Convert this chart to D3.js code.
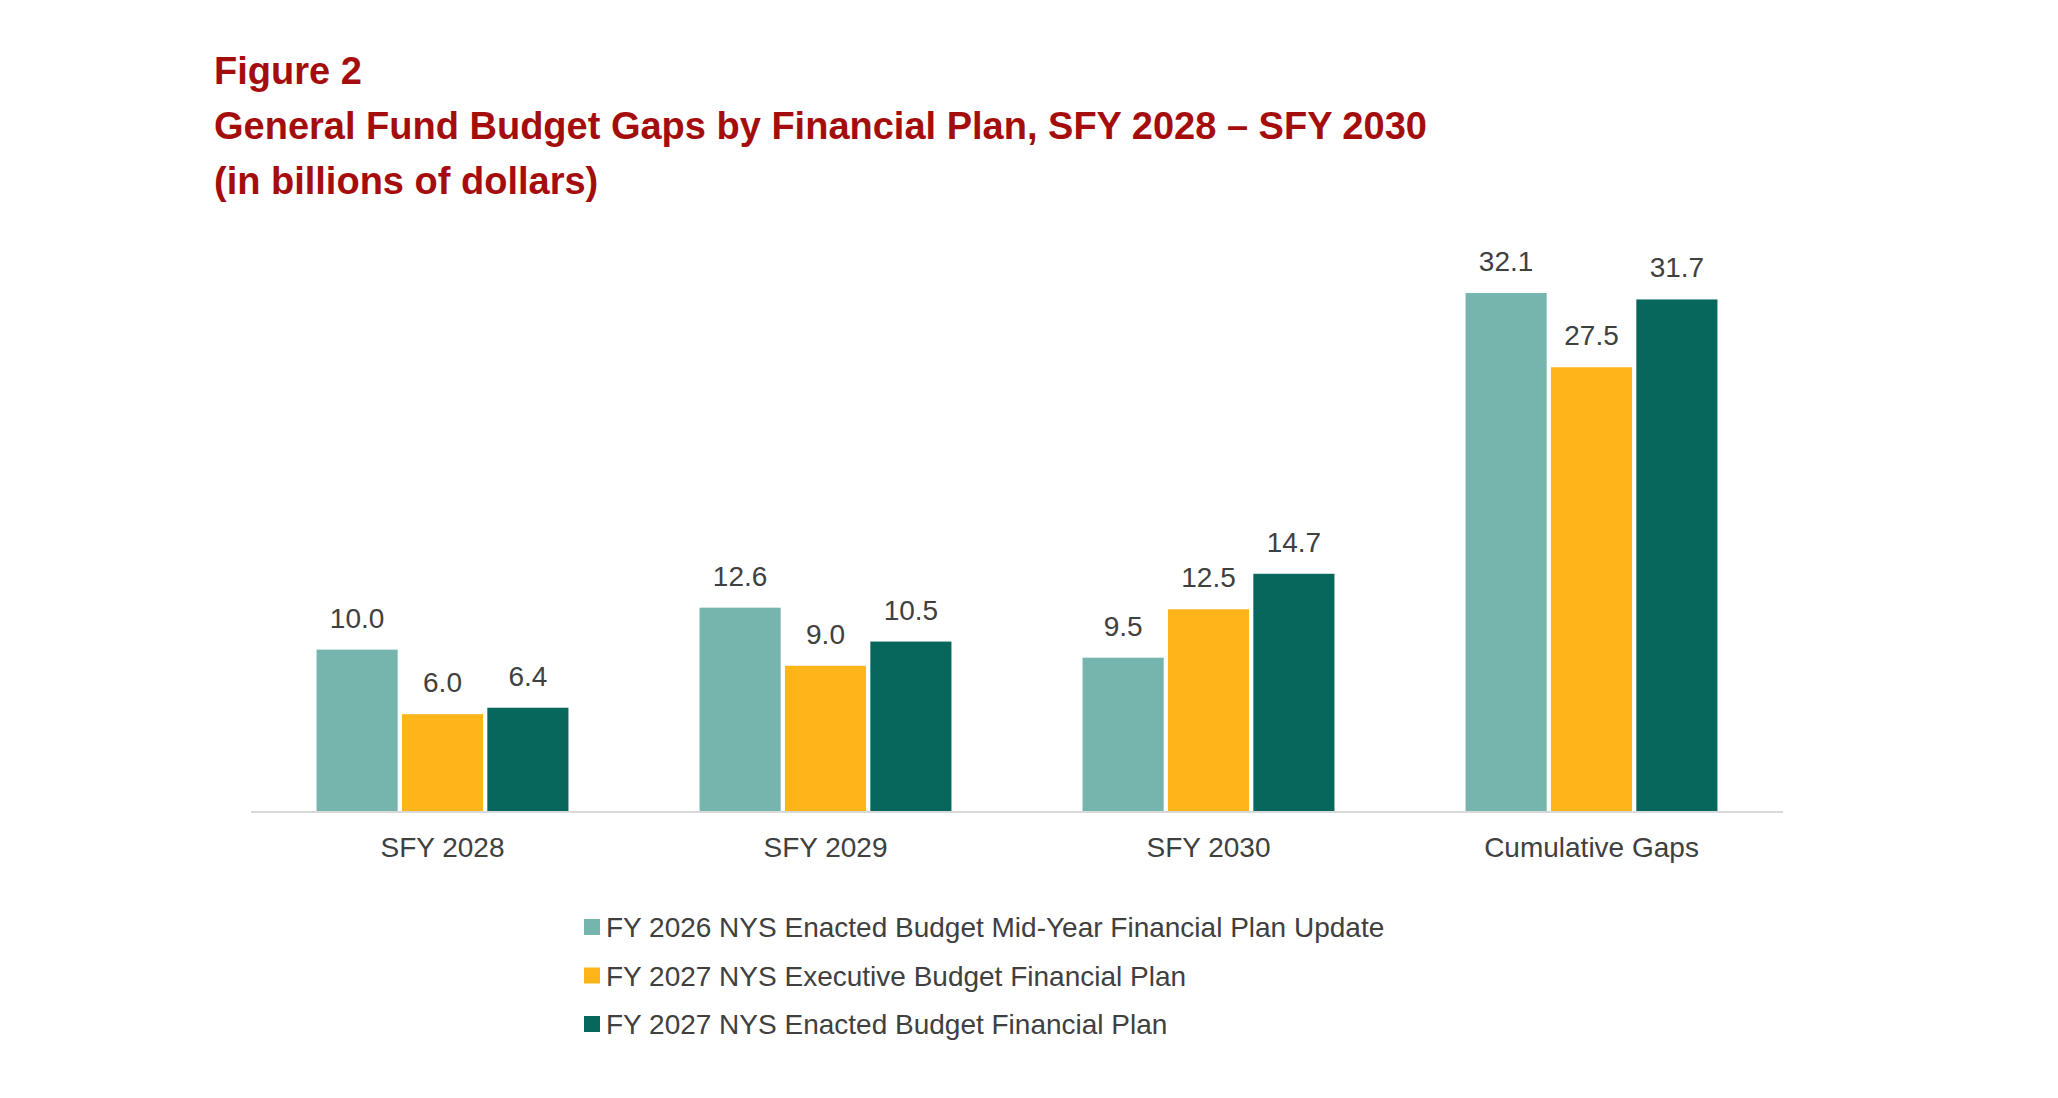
<!DOCTYPE html>
<html lang="en">
<head>
<meta charset="UTF-8">
<title>Figure 2</title>
<script src="https://cdnjs.cloudflare.com/ajax/libs/d3/7.8.5/d3.min.js"></script>
<style>
  body { margin: 0; background: #fff; font-family: 'Liberation Sans', Arial, sans-serif; }
  .title { fill: #a50d0d; font-weight: bold; font-size: 38px; }
  .lbl { fill: #404040; font-size: 28px; }
</style>
</head>
<body>
<svg id="chart" width="2058" height="1098"></svg>
<script>
const categories = ["SFY 2028", "SFY 2029", "SFY 2030", "Cumulative Gaps"];
const seriesNames = [
  "FY 2026 NYS Enacted Budget Mid-Year Financial Plan Update",
  "FY 2027 NYS Executive Budget Financial Plan",
  "FY 2027 NYS Enacted Budget Financial Plan"
];
const midYear = [10.0, 12.6, 9.5, 32.1];
const executive = [6.0, 9.0, 12.5, 27.5];
const enacted = [6.4, 10.5, 14.7, 31.7];
const colors = ["#76b4ae", "#fdb51a", "#08675d"];
const titleLines = [
  "Figure 2",
  "General Fund Budget Gaps by Financial Plan, SFY 2028 \u2013 SFY 2030",
  "(in billions of dollars)"
];

const series = [midYear, executive, enacted];
const svg = d3.select("#chart");

svg.selectAll(".title").data(titleLines).join("text")
  .attr("class", "title").attr("x", 214).attr("y", (d, i) => 84 + i * 55).text(d => d);

const x0 = d3.scaleBand().domain(categories).range([251, 1783]).paddingInner(0.32).paddingOuter(0.16);
const x1 = d3.scaleBand().domain(d3.range(3)).range([0, x0.bandwidth()]).padding(0.05);
const y = d3.scaleLinear().domain([0, 32.1]).range([811, 293]);

const g = svg.append("g");
categories.forEach((c, ci) => {
  series.forEach((s, si) => {
    const bx = x0(c) + x1(si);
    g.append("rect").attr("x", bx).attr("y", y(s[ci])).attr("width", x1.bandwidth())
      .attr("height", y(0) - y(s[ci])).attr("fill", colors[si]);
    g.append("text").attr("class", "lbl").attr("text-anchor", "middle")
      .attr("x", bx + x1.bandwidth() / 2).attr("y", y(s[ci]) - 22).text(s[ci].toFixed(1));
  });
});

const axis = svg.append("g").attr("transform", `translate(0,${y(0)})`)
  .call(d3.axisBottom(x0).tickSize(0).tickPadding(26));
axis.select(".domain").attr("stroke", "#d9d9d9").attr("stroke-width", 2)
  .attr("d", "M251,1H1783");
axis.selectAll("text").attr("class", "lbl").attr("font-family", null).attr("font-size", null)
  .attr("fill", "#404040");

const leg = svg.selectAll(".leg").data(seriesNames).join("g")
  .attr("transform", (d, i) => `translate(584,${927 + i * 48.5})`);
leg.append("rect").attr("x", 0).attr("y", -8).attr("width", 16).attr("height", 16)
  .attr("fill", (d, i) => colors[i]);
leg.append("text").attr("class", "lbl").attr("x", 22).attr("y", 10).text(d => d);
</script>
</body>
</html>
